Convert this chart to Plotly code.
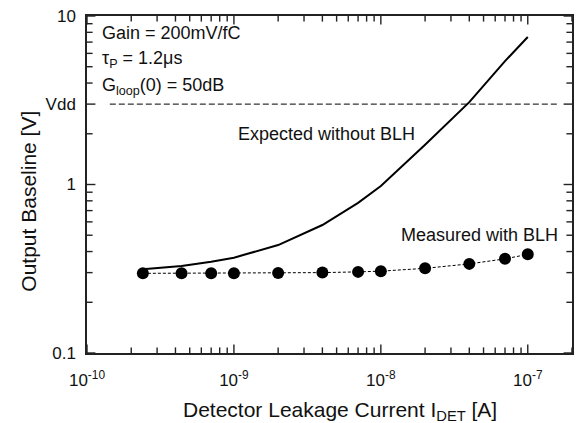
import plotly.graph_objects as go
import numpy as np

# ---- data ----
leak_current = [2.4e-10, 4.4e-10, 7e-10, 1e-9, 2e-9, 4e-9, 7e-9, 1e-8, 2e-8, 4e-8, 7e-8, 1e-7]
expected_no_blh = [0.314, 0.328, 0.348, 0.368, 0.437, 0.575, 0.778, 0.98, 1.72, 3.08, 5.4, 7.5]
measured_blh = [0.297, 0.297, 0.297, 0.297, 0.298, 0.300, 0.303, 0.306, 0.318, 0.338, 0.362, 0.385]
vdd_value = 3.0
vdd_span = [1.43e-10, 1.6e-7]

x_tickvals = [1e-10, 1e-9, 1e-8, 1e-7]
x_ticktext = ["10<sup>-10</sup>", "10<sup>-9</sup>", "10<sup>-8</sup>", "10<sup>-7</sup>"]
y_tickvals = [0.1, 1, 3, 10]
y_ticktext = ["0.1", "1", "Vdd", "10"]

x_minor = [m * 10.0 ** e for e in (-10, -9, -8, -7) for m in range(2, 10) if m * 10.0 ** e <= 2e-7]
y_minor = [m * 10.0 ** e for e in (-1, 0) for m in range(2, 10) if not (e == 0 and m == 3)]

FONT = "Arial"
XR = [-10, np.log10(2e-7)]
YR = [-1, 1]
AXC = "#222"

fig = go.Figure()
fig.add_trace(go.Scatter(x=vdd_span, y=[vdd_value, vdd_value], mode="lines",
                         line=dict(color="black", width=1, dash="6px,3px"),
                         showlegend=False, hoverinfo="skip"))
fig.add_trace(go.Scatter(x=leak_current, y=expected_no_blh, mode="lines",
                         line=dict(color="black", width=2), showlegend=False))
fig.add_trace(go.Scatter(x=leak_current, y=measured_blh, mode="lines+markers",
                         line=dict(color="black", width=1, dash="3px,2px"),
                         marker=dict(color="black", size=12), showlegend=False))

# inside tick marks on all four frame sides (markers clipped to the plot area,
# so only the inner half of each line symbol shows)
x_lo, x_hi = 10 ** XR[0], 10 ** XR[1]
y_lo, y_hi = 10 ** YR[0], 10 ** YR[1]


def tick_trace(xs, ys, symbol, size):
    return go.Scatter(x=xs, y=ys, mode="markers", showlegend=False, hoverinfo="skip",
                      marker=dict(symbol=symbol, size=size, color=AXC,
                                  line=dict(width=1.4, color=AXC)))


for vals, size in ((x_tickvals, 12), (x_minor, 8)):
    fig.add_trace(tick_trace(vals + vals, [y_lo] * len(vals) + [y_hi] * len(vals), "line-ns", size))
for vals, size in ((y_tickvals, 12), (y_minor, 8)):
    fig.add_trace(tick_trace([x_lo] * len(vals) + [x_hi] * len(vals), vals + vals, "line-ew", size))

tick_font = dict(size=17, color="#111")

fig.update_layout(
    xaxis=dict(type="log", range=XR, tickvals=x_tickvals, ticktext=x_ticktext,
               ticklabelstandoff=11, ticks="", showline=True, linecolor=AXC,
               linewidth=1.5, mirror=True, showgrid=False, zeroline=False,
               tickfont=tick_font),
    yaxis=dict(type="log", range=YR, tickvals=y_tickvals, ticktext=y_ticktext,
               ticklabelstandoff=6, ticks="", showline=True, linecolor=AXC,
               linewidth=1.5, mirror=True, showgrid=False, zeroline=False,
               tickfont=tick_font),
)

ann_font = dict(size=18, color="#111")
annotations = [
    dict(text="Gain = 200mV/fC", x=0.027, y=0.950),
    dict(text="τ<sub>P</sub> = 1.2μs", x=0.027, y=0.870),
    dict(text="G<sub>loop</sub>(0) = 50dB", x=0.027, y=0.790),
    dict(text="Expected without BLH", x=0.308, y=0.651),
    dict(text="Measured with BLH", x=0.644, y=0.349),
]
for a in annotations:
    fig.add_annotation(xref="paper", yref="paper", xanchor="left", yanchor="middle",
                       showarrow=False, font=ann_font, **a)

title_font = dict(size=21, color="#111")
fig.add_annotation(xref="paper", yref="paper", x=0.5226, y=-0.172, xanchor="center",
                   yanchor="middle", showarrow=False, font=title_font,
                   text="Detector Leakage Current I<sub>DET</sub> [A]")
fig.add_annotation(xref="paper", yref="paper", x=-0.121, y=0.450, xanchor="center",
                   yanchor="middle", showarrow=False, font=title_font, textangle=-90,
                   text="Output Baseline [V]")

fig.update_layout(width=581, height=423, margin=dict(l=87, r=7, t=15, b=70),
                  plot_bgcolor="white", showlegend=False,
                  font=dict(family=FONT))
fig.write_html("out.html")
